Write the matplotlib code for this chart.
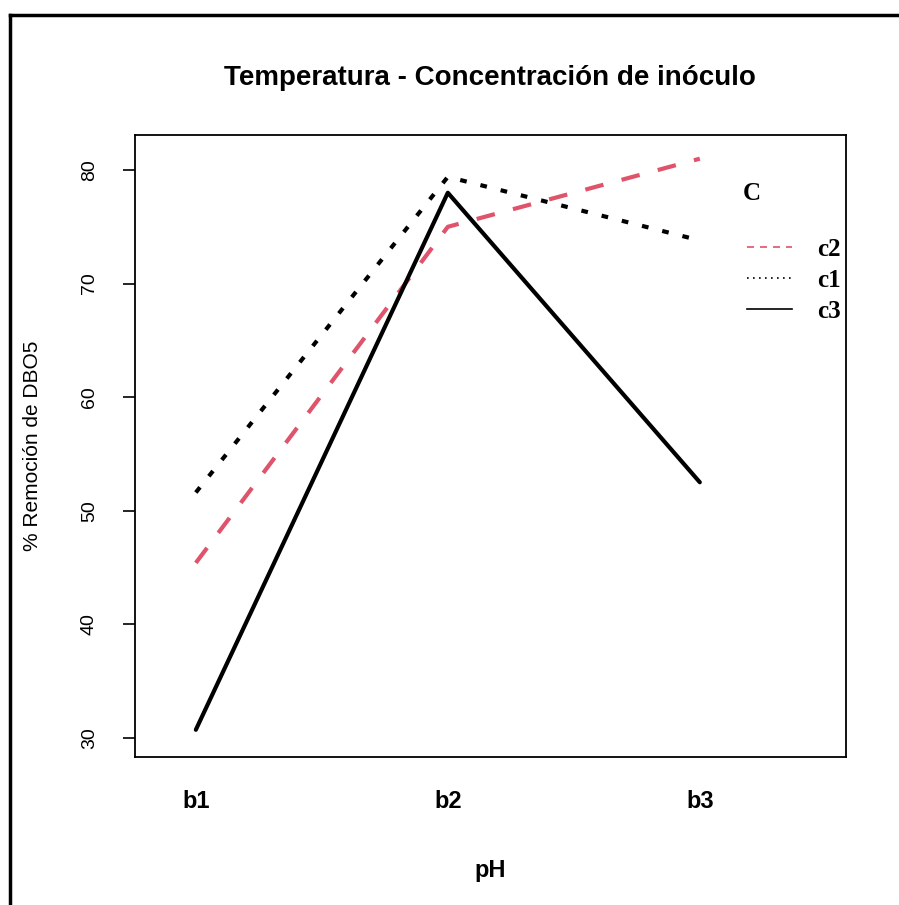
import matplotlib
matplotlib.use("Agg")
import matplotlib.pyplot as plt
from matplotlib.lines import Line2D

# interaction plot data: mean % removal of DBO5 by pH level and inoculum concentration
ph_levels = ["b1", "b2", "b3"]
c2_values = [45.4, 75.0, 81.0]
c1_values = [51.6, 79.4, 73.8]
c3_values = [30.7, 78.0, 52.5]

series_names = ["c2", "c1", "c3"]
series_values = [c2_values, c1_values, c3_values]
series_colors = ["#DF536B", "black", "black"]
series_dashes = [(4.5, 4.5), (1.6, 3.4), None]
legend_dashes = [(4.2, 3.6), (1, 2.6), None]

y_ticks = [30, 40, 50, 60, 70, 80]

plt.rcParams["font.family"] = ["Liberation Sans", "DejaVu Sans"]

fig = plt.figure(figsize=(8.99, 9.05), dpi=100)
ax = fig.add_axes([0.150, 0.1635, 0.791, 0.6875])

x = list(range(1, len(ph_levels) + 1))
handles = []
for name, vals, col, dash, ldash in zip(series_names, series_values, series_colors,
                                         series_dashes, legend_dashes):
    line, = ax.plot(x, vals, color=col, linewidth=3.0, solid_capstyle="round")
    if dash is not None:
        line.set_dashes(dash)
    h = Line2D([], [], color=col, linewidth=1.2)
    if ldash is not None:
        h.set_dashes(ldash)
    handles.append(h)

ax.set_xlim(0.758, 3.58)
ax.set_ylim(28.3, 83.1)
ax.set_xticks(x)
ax.set_xticklabels(ph_levels, fontsize=17, fontweight="bold")
ax.tick_params(axis="x", length=0, pad=24)
ax.set_yticks(y_ticks)
ax.set_yticklabels([str(v) for v in y_ticks], fontsize=14, rotation=90, va="center")
ax.tick_params(axis="y", length=8.6, width=1.2, pad=18)
for sp in ax.spines.values():
    sp.set_linewidth(1.3)

ax.set_xlabel("pH", fontsize=17, fontweight="bold", labelpad=33)
ax.set_ylabel("% Remoción de DBO5", fontsize=15, labelpad=28)
ax.set_title("Temperatura - Concentración de inóculo", fontsize=20,
             fontweight="bold", pad=36)

serif_bold = {"family": "Liberation Serif", "weight": "bold", "size": 18}
ax.text(0.855, 0.905, "C", transform=ax.transAxes, ha="left", va="center",
        fontdict=serif_bold)
ax.legend(handles, series_names, frameon=False, loc="upper left",
          bbox_to_anchor=(0.861, 0.834), borderpad=0, borderaxespad=0,
          handlelength=1.8, handletextpad=1.0, labelspacing=0.32, prop=serif_bold)

# outer frame around the figure (only top and left visible)
fig.add_artist(Line2D([0.011, 1.0], [0.983, 0.983], color="black", linewidth=2.5,
                      transform=fig.transFigure))
fig.add_artist(Line2D([0.011, 0.011], [0.0, 0.983], color="black", linewidth=2.5,
                      transform=fig.transFigure))

fig.savefig("out.png", dpi=100)
